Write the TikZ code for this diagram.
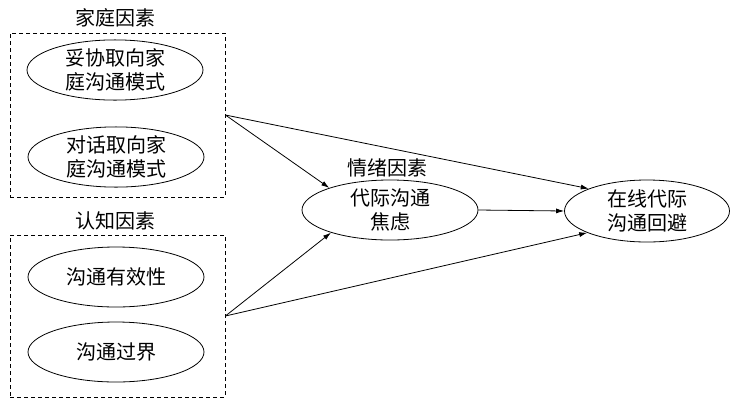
\documentclass[tikz,border=0pt]{standalone}
\usepackage{fontspec}
\newfontfamily\cjk{Noto Sans CJK SC}
\usetikzlibrary{shapes.geometric,arrows.meta}
\begin{document}
\begin{tikzpicture}[x=1pt,y=-1pt,
  every node/.style={font=\cjk\fontsize{20}{24}\selectfont},
  ell/.style={draw,ellipse,line width=0.8pt,inner sep=0pt,minimum width=176pt,align=center},
  grp/.style={draw,dashed,dash pattern=on 4pt off 3pt,line width=0.8pt,minimum width=215pt,inner sep=0pt},
  ttl/.style={inner sep=0pt},
  arr/.style={-{Latex[length=8pt,width=5pt]},line width=0.8pt}]
\useasboundingbox (0,0) rectangle (735,405);
\node[grp,minimum height=164pt] (box1) at (117.5,115) {};
\node[grp,minimum height=162pt] (box2) at (117.5,316) {};
\node[ttl] (t1) at (115,18) {家庭因素};
\node[ttl] (t2) at (115,221) {认知因素};
\node[ell,minimum height=56pt] (e1) at (115,70) {妥协取向家\\庭沟通模式};
\node[ell,minimum height=56pt] (e2) at (116,157) {对话取向家\\庭沟通模式};
\node[ell,minimum height=60pt] (e3) at (116,277) {沟通有效性};
\node[ell,minimum height=60pt] (e4) at (116,352) {沟通过界};
\node[ell,minimum height=60pt] (mid) at (390,210) {代际沟通\\焦虑};
\node[ttl] (t3) at (387,168) {情绪因素};
\node[ell,minimum width=165pt,minimum height=62pt] (out) at (647,211) {在线代际\\沟通回避};
\draw[arr] (box1.east) -- (mid.160);
\draw[arr] (box1.east) -- (out.159);
\draw[arr] (box2.east) -- (mid.201);
\draw[arr] (box2.east) -- (out.200);
\draw[arr] (mid.east) -- (out.west);
\end{tikzpicture}
\end{document}
